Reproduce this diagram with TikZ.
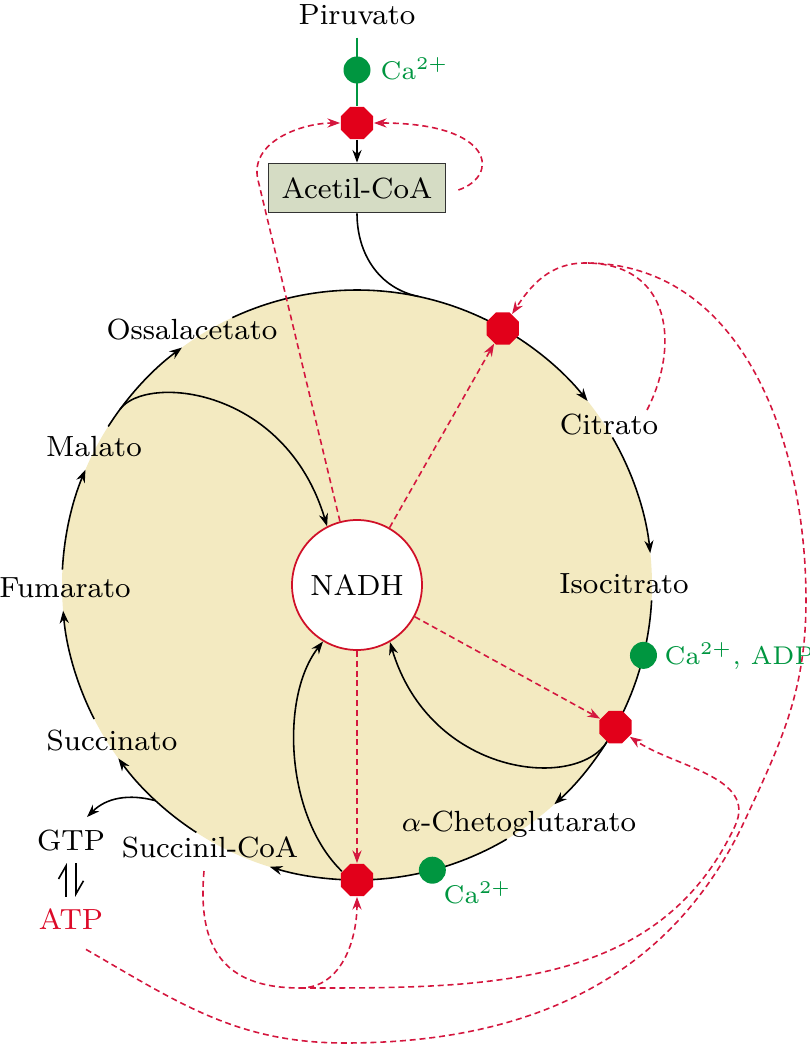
\documentclass[tikz,border=0pt]{standalone}
\usepackage{tikz}
\usetikzlibrary{arrows.meta,shapes.geometric}

\definecolor{cyclefill}{RGB}{243,234,193}
\definecolor{boxfill}{RGB}{213,220,196}
\definecolor{stopred}{RGB}{226,0,26}
\definecolor{actgreen}{RGB}{0,150,64}
\definecolor{dashred}{RGB}{212,22,62}
\definecolor{nadhred}{RGB}{208,16,40}
\definecolor{atpred}{RGB}{220,10,40}

\begin{document}
\begin{tikzpicture}
 [x=0.1mm, y=0.1mm,
  >={Stealth[length=3.6pt,width=2.6pt]},
  every node/.style={font=\fontsize{8.3}{10}\selectfont},
  stop node/.style={regular polygon, regular polygon sides=8, fill=stopred, inner sep=0pt, minimum size=3.5mm},
  ca node/.style={circle, fill=actgreen, inner sep=0pt, minimum size=2.7mm},
  green text/.style={text=actgreen, anchor=base west, inner sep=0pt, font=\fontsize{7.3}{9}\selectfont},
  name node/.style={anchor=base},
  step line/.style={line width=0.45pt},
  feedback/.style={dashred, line width=0.45pt, dash pattern=on 1.7pt off 1.1pt},
  harpoon/.style={-{Straight Barb[left,length=1.3mm,width=1.5mm]}, line width=0.45pt}]

\useasboundingbox (0,0) rectangle (810,1046);

% ciclo
\coordinate (c) at (357,461);
\fill[cyclefill] (c) circle [radius=29.5mm];
\draw[step line] ([shift={(115:29.5mm)}]c) arc [start angle=115, end angle=60.4, radius=29.5mm];
\foreach \a/\b in {-3/-28.8, -59.5/-90}
  \draw[step line] ([shift={(\a:29.5mm)}]c) arc [start angle=\a, end angle=\b, radius=29.5mm];
\foreach \a/\b in {60.4/38.6, 30/6.2, -28.8/-48, -90/-107.2, -123/-144, -153/-175, 177/157, 147.5/126.4}
  \draw[step line, ->] ([shift={(\a:29.5mm)}]c) arc [start angle=\a, end angle=\b, radius=29.5mm];

% nodi
\node[name node] (piruvato) at (357,1021) {Piruvato};
\node[ca node] (ca pdh) at (357,976) {};
\node[green text] (ca pdh label) at (380,966) {Ca\textsuperscript{2+}};
\node[stop node] (pdh) at (357,923) {};
\node[draw=black!80, fill=boxfill, minimum width=17.7mm, minimum height=4.9mm, line width=0.5pt] (acetil) at (357,858) {Acetil-CoA};
\node[circle, draw=nadhred, fill=white, minimum size=13mm, inner sep=0pt, line width=0.5pt] (nadh) at (c) {NADH};

\node[stop node] (cs) at ([shift={(60.4:29.5mm)}]c) {};
\node[stop node] (idh) at ([shift={(-28.8:29.5mm)}]c) {};
\node[stop node] (kgdh) at ([shift={(-90:29.5mm)}]c) {};
\node[ca node] (ca idh) at ([shift={(-13.8:29.5mm)}]c) {};
\node[ca node] (ca kgdh) at ([shift={(-75.2:29.5mm)}]c) {};
\node[green text] (ca idh label) at (664,381) {Ca\textsuperscript{2+}, ADP};
\node[green text] (ca kgdh label) at (443,142) {Ca\textsuperscript{2+}};

\node[name node] (ossalacetato) at (192,706) {Ossalacetato};
\node[name node] (citrato) at (609,611) {Citrato};
\node[name node] (malato) at (94,589) {Malato};
\node[name node] (isocitrato) at (624,453) {Isocitrato};
\node[name node] (fumarato) at (65,448) {Fumarato};
\node[name node] (succinato) at (112,296) {Succinato};
\node[name node] (chetoglutarato) at (519,214) {$\alpha$-Chetoglutarato};
\node[name node] (succinilcoa) at (210,188) {Succinil-CoA};
\node[name node] (gtp) at (71,196) {GTP};
\node[name node, text=atpred] (atp) at (71,116) {ATP};

\coordinate (acetil join) at ([shift={(78:29.5mm)}]c);
\coordinate (malato out) at ([shift={(143.5:29.5mm)}]c);
\coordinate (gtp out) at ([shift={(227:29.5mm)}]c);
\coordinate (nadh turn) at (258,866);
\coordinate (cs top) at (585,783);
\coordinate (citrato out) at (647,636);
\coordinate (atp bottom) at (345,3);
\coordinate (atp right) at (745,226);
\coordinate (atp far) at (806,446);
\coordinate (succ low) at (300,58);
\coordinate (succ right) at (735,220);

% frecce nere
\draw[step line, actgreen] (piruvato) -- (pdh);
\path[step line, ->]
  (pdh) edge (acetil)
  (acetil.south) edge[-, out=-90, in=168] (acetil join)
  (gtp out) edge[out=165, in=45] ([xshift=1.6mm]gtp.north);
\draw[step line, ->] (malato out) .. controls (145,672) and (285,660) .. (nadh.117);
\draw[step line, ->] (idh.240) .. controls (575,255) and (430,270) .. (nadh.-60);
\draw[step line, ->] (kgdh.150) .. controls (285,230) and (280,350) .. (nadh.-121);
\draw[harpoon] ([xshift=-0.5mm]atp.north) -- ([xshift=-0.5mm]gtp.south);
\draw[harpoon] ([xshift=0.5mm]gtp.south) -- ([xshift=0.5mm]atp.north);

% inibizioni
\path[feedback, ->]
  (nadh) edge (cs)
  (nadh) edge (idh)
  (nadh) edge (kgdh);
\draw[feedback, ->] (nadh.105) -- (nadh turn) to[out=103.5, in=180] (pdh.west);
\draw[feedback, ->] ([shift={(12,-2)}]acetil.east) .. controls (500,870) and (495,923) .. (pdh.east);
\draw[feedback, ->] (citrato out) .. controls (680,700) and (672,783) .. (cs top) to[out=180, in=57] (cs);
\draw[feedback] ([shift={(15,-7)}]atp.south) to[out=-30, in=180] (atp bottom) to[out=0, in=-115] (atp right)
  to[out=65, in=-90] (atp far) to[out=90, in=0] (cs top);
\draw[feedback, ->] ([xshift=-0.6mm]succinilcoa.south) to[out=-95, in=180, looseness=1.3] (succ low) to[out=0, in=-90] (kgdh);
\draw[feedback, ->] (succ low) to[out=0, in=-115] (succ right) to[out=65, in=-34] (idh);

\end{tikzpicture}
\end{document}
